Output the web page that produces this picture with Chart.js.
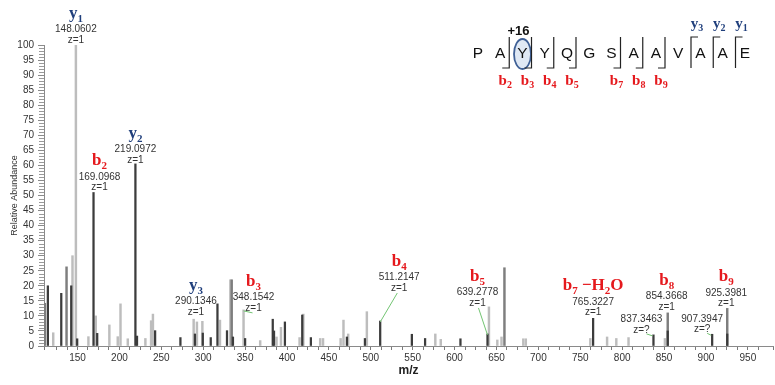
<!DOCTYPE html>
<html>
<head>
<meta charset="utf-8">
<script src="https://cdn.jsdelivr.net/npm/chart.js@4/dist/chart.umd.min.js"></script>
<style>
  html, body { margin: 0; padding: 0; background: #fff; }
  #wrap { width: 775px; height: 385px; }
</style>
</head>
<body>
<div id="wrap"><canvas id="c" width="775" height="385"></canvas></div>
<script>
// MS/MS spectrum of PAYYQGSAAVAAE (Tyr +16), relative abundance vs m/z

// light grey peaks
const lightMz  = [121, 144, 148.0602, 163, 171.8, 188, 198, 201.3, 210, 231, 237.8, 240, 288.6, 292.5, 299, 320, 332.4, 348.1542, 368, 387.5, 392.8, 415, 419.5, 439.6, 443, 464, 467.4, 473, 495.3, 577, 583.5, 641, 651, 656, 682, 685, 762, 782, 793, 807.6, 851];
const lightInt = [4.4, 30, 100, 3.1, 10, 7, 3.1, 14, 2.4, 2.5, 8.4, 10.6, 8.9, 8, 8.2, 8.6, 22, 12, 1.8, 3, 6.2, 2.8, 10.6, 2.5, 2.5, 2.5, 8.6, 4, 11.4, 4, 2.2, 13, 2, 3, 2.4, 2.4, 2.5, 3, 2.5, 2.8, 2.5];

// medium grey peaks
const midMz  = [111, 136.9, 334, 659.5, 854.3668, 925.3981];
const midInt = [14.2, 26.3, 22, 26, 11, 12.5];

// dark peaks
const darkMz  = [114.6, 130.6, 142.5, 149.6, 169.0968, 173.5, 219.0972, 221, 242.6, 272.8, 290.1346, 299.5, 309, 317, 328.4, 335.5, 350, 383, 384.5, 397.5, 418.2, 428.5, 471.5, 493, 511.2147, 549, 564.8, 607, 639.2778, 765.3227, 837.3463, 854.3668, 907.3947, 925.3981];
const darkInt = [20, 17.5, 20, 2.4, 51, 4.2, 60.5, 3.3, 5.1, 2.8, 4, 4.3, 2.8, 14, 5.1, 3, 2.5, 8.9, 5, 8, 10.3, 2.8, 3, 2.5, 8.3, 3.9, 2.5, 2.4, 4, 9.2, 3.7, 5, 3.9, 4];

// annotated fragment ions
const annMz     = [148.0602, 169.0968, 219.0972, 290.1346, 348.1542, 511.2147, 639.2778, 765.3227, 837.3463, 854.3668, 907.3947, 925.3981];
const annCharge = ['z=1', 'z=1', 'z=1', 'z=1', 'z=1', 'z=1', 'z=1', 'z=1', 'z=?', 'z=1', 'z=?', 'z=1'];
const annIon    = ['y1', 'b2', 'y2', 'y3', 'b3', 'b4', 'b5', 'b7-H2O', '', 'b8', '', 'b9'];

// peptide sequence with observed cleavages
const residues = ['P', 'A', 'Y', 'Y', 'Q', 'G', 'S', 'A', 'A', 'V', 'A', 'A', 'E'];
const bSites = [2, 3, 4, 5, 7, 8, 9];
const ySites = [3, 2, 1];
const modIndex = 2;
const modLabel = '+16';

// axis tick values
const yTickStep = 5;
const xTickStep = 12.5;
const xLabelEvery = 50;

const SANS = '"Liberation Sans", Arial, Helvetica, sans-serif';
const SERIF = '"Liberation Serif", "Times New Roman", serif';
const RED = '#e5191d';
const NAVY = '#203f7c';
const GREEN = '#72c472';

// label placement: horizontal shift and lift above the peak top (px)
const annPlace = [
  { dx: 0, lift: 5 }, { dx: 6, lift: 5 }, { dx: 0, lift: 4 }, { dx: 1, lift: 22 },
  { dx: 10, lift: 2, leader: true }, { dx: 19, lift: 33, leader: true }, { dx: -10, lift: 31, leader: true },
  { dx: 0, lift: 6 }, { dx: -12, lift: 5, stub: true }, { dx: -1, lift: 6 },
  { dx: -10, lift: 5, stub: true }, { dx: -1, lift: 5 }
];

const toPts = (xs, ys) => xs.map((x, i) => ({ x: x, y: ys[i] }));

function peakHeight(mz) {
  let h = 0;
  [[lightMz, lightInt], [midMz, midInt], [darkMz, darkInt]].forEach(([xs, ys]) => {
    xs.forEach((x, i) => { if (Math.abs(x - mz) < 1e-6) h = Math.max(h, ys[i]); });
  });
  return h;
}

function ionParts(name) {
  if (name.indexOf('-H2O') >= 0) {
    const n = name.split('-')[0];
    return [[n[0], 0], [n.slice(1), 1], [' \u2212H', 0], ['2', 1], ['O', 0]];
  }
  return [[name[0], 0], [name.slice(1), 1]];
}

function drawIon(ctx, name, cx, baseY, size) {
  const parts = ionParts(name);
  const big = 'bold ' + size + 'px ' + SERIF;
  const small = 'bold ' + Math.round(size * 0.64) + 'px ' + SERIF;
  let w = 0;
  parts.forEach(([t, s]) => { ctx.font = s ? small : big; w += ctx.measureText(t).width; });
  let x = cx - w / 2;
  ctx.fillStyle = name[0] === 'y' ? NAVY : RED;
  ctx.textAlign = 'left';
  ctx.textBaseline = 'alphabetic';
  parts.forEach(([t, s]) => {
    ctx.font = s ? small : big;
    ctx.fillText(t, x, baseY + (s ? size * 0.22 : 0));
    x += ctx.measureText(t).width;
  });
}

const annotate = {
  id: 'annotate',
  afterDraw(chart) {
    const ctx = chart.ctx;
    const xs = chart.scales.x, ys = chart.scales.y;
    ctx.save();

    // minor ticks on the abundance axis
    ctx.strokeStyle = '#9a9a9a';
    ctx.lineWidth = 1;
    for (let v = 0; v <= 100; v++) {
      if (v % yTickStep === 0) continue;
      const y = Math.round(ys.getPixelForValue(v)) + 0.5;
      ctx.beginPath();
      ctx.moveTo(xs.left - 5, y);
      ctx.lineTo(xs.left, y);
      ctx.stroke();
    }

    // peak labels
    annMz.forEach((mz, i) => {
      const p = annPlace[i];
      const bx = xs.getPixelForValue(mz);
      const top = ys.getPixelForValue(peakHeight(mz));
      const cx = bx + p.dx;
      const zY = top - p.lift;
      ctx.fillStyle = '#333';
      ctx.font = '10px ' + SANS;
      ctx.textAlign = 'center';
      ctx.textBaseline = 'middle';
      ctx.fillText(annCharge[i], cx, zY);
      ctx.fillText(mz.toFixed(4), cx, zY - 10.5);
      if (annIon[i]) drawIon(ctx, annIon[i], cx, zY - 22, 17);
      ctx.strokeStyle = GREEN;
      ctx.lineWidth = 1;
      if (p.leader) {
        ctx.beginPath();
        ctx.moveTo(cx + (bx - cx) * 0.1, zY + 5);
        ctx.lineTo(bx, top + 1);
        ctx.stroke();
      }
      if (p.stub) {
        ctx.beginPath();
        ctx.moveTo(cx + 5, zY + 4);
        ctx.lineTo(bx - 1, top + 1);
        ctx.stroke();
      }
    });

    // peptide sequence with fragment brackets
    const x0 = 478, step = 22.25, midY = 53, yTop = 37, yBot = 68;
    const rx = (i) => x0 + i * step;
    const mx = rx(modIndex);
    ctx.beginPath();
    ctx.ellipse(mx, midY + 1, 8.5, 15, 0, 0, Math.PI * 2);
    ctx.fillStyle = '#dfe8f4';
    ctx.fill();
    ctx.strokeStyle = '#3f6096';
    ctx.lineWidth = 1.8;
    ctx.stroke();
    ctx.fillStyle = '#111';
    ctx.font = 'bold 13px ' + SANS;
    ctx.textAlign = 'center';
    ctx.textBaseline = 'middle';
    ctx.fillText(modLabel, mx - 4, 31);

    ctx.font = '15.5px ' + SANS;
    residues.forEach((r, i) => ctx.fillText(r, rx(i), midY + 1));

    ctx.strokeStyle = '#222';
    ctx.lineWidth = 1.2;
    bSites.forEach((n) => {
      const x = rx(n - 1) + 9;
      ctx.beginPath();
      ctx.moveTo(x - 7, yBot);
      ctx.lineTo(x, yBot);
      ctx.lineTo(x, yTop);
      ctx.stroke();
      drawIon(ctx, 'b' + n, x - 4, 85, 15);
    });
    ySites.forEach((n) => {
      const x = rx(residues.length - n) - 9.5;
      ctx.beginPath();
      ctx.moveTo(x, yBot);
      ctx.lineTo(x, yTop);
      ctx.lineTo(x + 7, yTop);
      ctx.stroke();
      drawIon(ctx, 'y' + n, x + 6, 28, 15);
    });
    ctx.restore();
  }
};

new Chart(document.getElementById('c'), {
  type: 'bar',
  data: {
    datasets: [
      { label: 'dark', data: toPts(darkMz, darkInt), backgroundColor: '#3c3c3c', barThickness: 1.6 },
      { label: 'mid', data: toPts(midMz, midInt), backgroundColor: '#7e7e7e', barThickness: 1.8 },
      { label: 'light', data: toPts(lightMz, lightInt), backgroundColor: '#bdbdbd', barThickness: 1.8 }
    ]
  },
  options: {
    responsive: false,
    animation: false,
    devicePixelRatio: 1,
    layout: { padding: { top: 45, right: 2, bottom: 0, left: 0 } },
    datasets: { bar: { grouped: false } },
    plugins: { legend: { display: false }, tooltip: { enabled: false } },
    scales: {
      x: {
        type: 'linear', min: 110, max: 980, offset: false,
        grid: { drawOnChartArea: false, tickLength: 4, color: '#7a7a7a', offset: false },
        border: { color: '#8a8a8a' },
        ticks: {
          stepSize: xTickStep, autoSkip: false, maxRotation: 0, padding: 2,
          color: '#333', font: { family: SANS, size: 10 },
          callback: (v) => (v % xLabelEvery === 0 ? v : '')
        },
        title: { display: true, text: 'm/z', color: '#222', font: { family: SANS, size: 12, weight: 'bold' }, padding: { top: 0, bottom: 7 } },
        afterFit: (s) => { s.height = 39; }
      },
      y: {
        min: 0, max: 100,
        grid: { drawOnChartArea: false, tickLength: 6, color: '#8a8a8a' },
        border: { color: '#8a8a8a' },
        ticks: { stepSize: yTickStep, autoSkip: false, padding: 4, color: '#333', font: { family: SANS, size: 10 } },
        title: { display: true, text: 'Relative Abundance', color: '#333', font: { family: SANS, size: 9 }, padding: { top: 9, bottom: 0 } },
        afterFit: (s) => { s.width = 44; }
      }
    }
  },
  plugins: [annotate]
});
</script>
</body>
</html>
